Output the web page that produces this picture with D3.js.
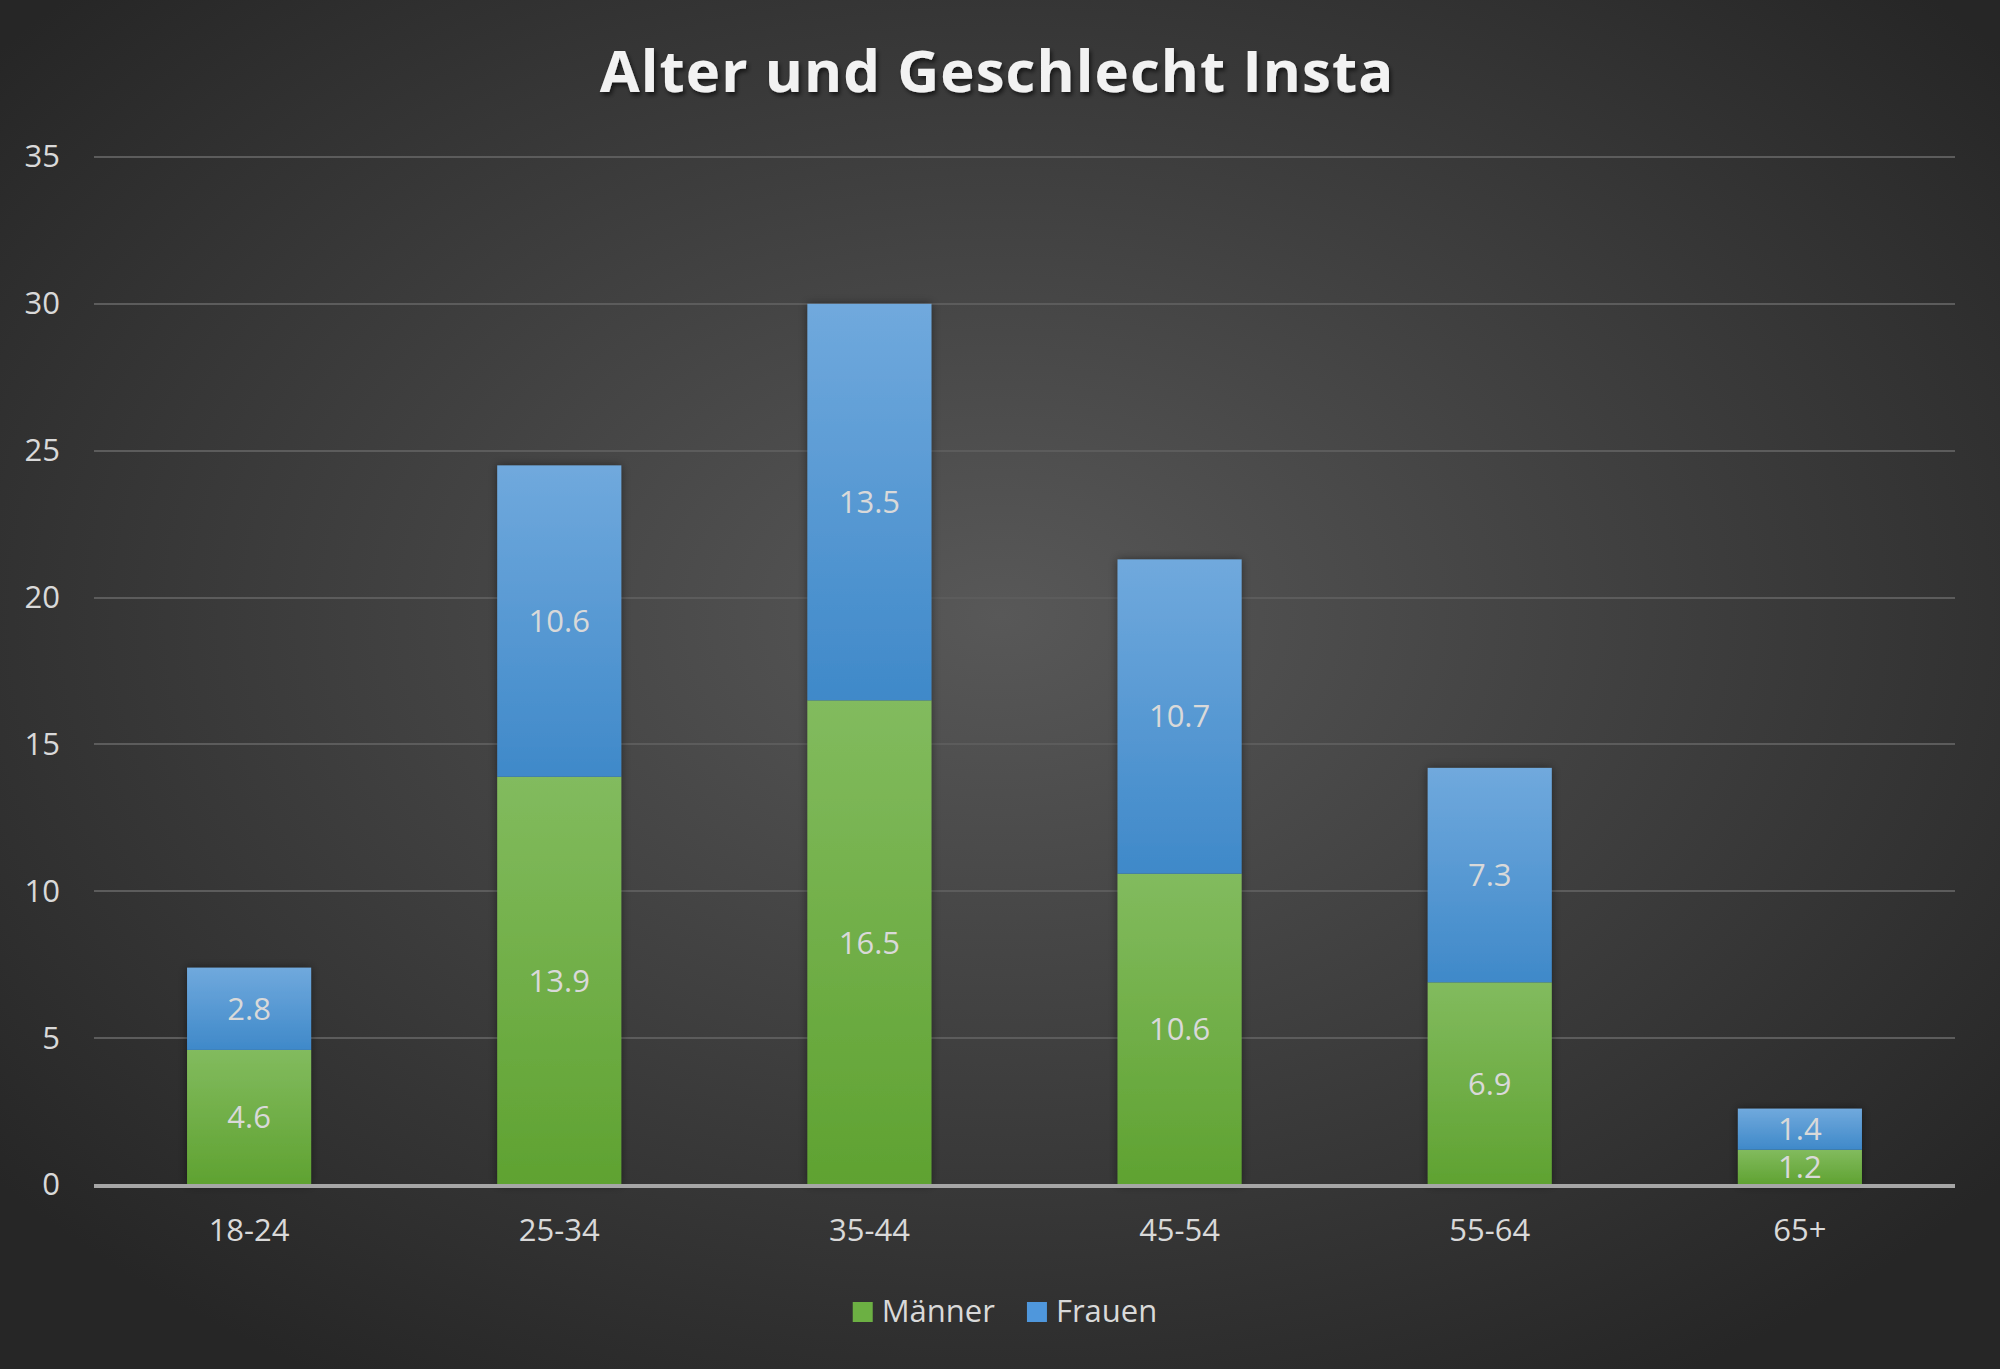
<!DOCTYPE html>
<meta charset="utf-8">
<style>
body { margin: 0; background: #2b2b2b; }
text { font-family: "Open Sans", sans-serif; fill: #d9d9d9; }
.axis path, .axis line { display: none; }
.grid line { stroke: #5c5c5c; stroke-width: 2; shape-rendering: crispEdges; }
.title { font-weight: bold; font-size: 58px; fill: #f2f2f2; letter-spacing: 1.1px; text-anchor: middle; }
</style>
<body>
<div id="chart"></div>
<script src="https://d3js.org/d3.v7.min.js"></script>
<script>

var categories = ["18-24", "25-34", "35-44", "45-54", "55-64", "65+"];
var maenner = [4.6, 13.9, 16.5, 10.6, 6.9, 1.2];
var frauen = [2.8, 10.6, 13.5, 10.7, 7.3, 1.4];
var seriesNames = ["Männer", "Frauen"];
var yTicks = [0, 5, 10, 15, 20, 25, 30, 35];

var width = 2000,
    height = 1369,
    margin = {top: 157, right: 45, bottom: 184, left: 94};

var rows = categories.map((c, i) => ({cat: c, "Männer": maenner[i], "Frauen": frauen[i]}));
var stacked = d3.stack().keys(seriesNames)(rows);

var svg = d3.select("#chart")
  .append("svg")
  .attr("width", width)
  .attr("height", height);

var defs = svg.append("defs");

// background
var bg = defs.append("radialGradient").attr("id", "bg")
  .attr("cx", "50%").attr("cy", "45%").attr("r", "65%");
bg.append("stop").attr("offset", "0%").attr("stop-color", "#585858");
bg.append("stop").attr("offset", "100%").attr("stop-color", "#262626");

var gGreen = defs.append("linearGradient").attr("id", "gGreen").attr("x1", 0).attr("y1", 0).attr("x2", 0).attr("y2", 1);
gGreen.append("stop").attr("offset", "0%").attr("stop-color", "#82bb5e");
gGreen.append("stop").attr("offset", "100%").attr("stop-color", "#5fa231");
var gBlue = defs.append("linearGradient").attr("id", "gBlue").attr("x1", 0).attr("y1", 0).attr("x2", 0).attr("y2", 1);
gBlue.append("stop").attr("offset", "0%").attr("stop-color", "#70a9dd");
gBlue.append("stop").attr("offset", "100%").attr("stop-color", "#3f89c9");

var shadow = defs.append("filter").attr("id", "shadow").attr("x", "-20%").attr("y", "-20%").attr("width", "140%").attr("height", "140%");
shadow.append("feDropShadow").attr("dx", 0).attr("dy", 0).attr("stdDeviation", 5).attr("flood-color", "#000").attr("flood-opacity", 0.45);
var tshadow = defs.append("filter").attr("id", "tshadow").attr("x", "-5%").attr("y", "-20%").attr("width", "110%").attr("height", "150%");
tshadow.append("feDropShadow").attr("dx", 2).attr("dy", 3).attr("stdDeviation", 2).attr("flood-color", "#000").attr("flood-opacity", 0.6);

svg.append("rect").attr("width", width).attr("height", height).attr("fill", "url(#bg)");

var x = d3.scaleBand()
  .domain(categories)
  .range([margin.left, width - margin.right])
  .paddingInner(0.6)
  .paddingOuter(0.3);

var y = d3.scaleLinear()
  .domain([0, 35])
  .range([height - margin.bottom, margin.top]);

// gridlines
svg.append("g").attr("class", "grid")
  .selectAll("line")
  .data(yTicks.slice(1))
  .enter().append("line")
  .attr("x1", margin.left).attr("x2", width - margin.right)
  .attr("y1", d => Math.round(y(d))).attr("y2", d => Math.round(y(d)));

// y axis labels
svg.append("g")
  .attr("class", "axis")
  .attr("transform", `translate(${margin.left - 34},0)`)
  .call(d3.axisLeft(y).tickValues(yTicks).tickSize(0).tickPadding(0))
  .call(g => g.selectAll("text").attr("fill", "#d9d9d9").style("font-size", "31px").attr("font-family", null));

// bars
var colors = {"Männer": "url(#gGreen)", "Frauen": "url(#gBlue)"};
var barGroup = svg.append("g").attr("filter", "url(#shadow)");
barGroup.selectAll("g")
  .data(stacked)
  .enter().append("g")
  .attr("fill", d => colors[d.key])
  .selectAll("rect")
  .data(d => d)
  .enter().append("rect")
  .attr("x", d => x(d.data.cat))
  .attr("y", d => y(d[1]))
  .attr("width", x.bandwidth())
  .attr("height", d => y(d[0]) - y(d[1]));

// data labels
stacked.forEach(s => {
  svg.append("g").selectAll("text")
    .data(s)
    .enter().append("text")
    .attr("x", d => x(d.data.cat) + x.bandwidth() / 2)
    .attr("y", d => (y(d[0]) + y(d[1])) / 2)
    .attr("dy", "0.35em")
    .attr("text-anchor", "middle")
    .style("font-size", "31px")
    .text(d => d3.format(".1f")(d[1] - d[0]));
});

// x axis
svg.append("line")
  .attr("x1", margin.left).attr("x2", width - margin.right)
  .attr("y1", y(0) + 1).attr("y2", y(0) + 1)
  .attr("stroke", "#a6a6a6").attr("stroke-width", 4);

svg.append("g")
  .attr("class", "axis")
  .attr("transform", `translate(0,${y(0) + 34})`)
  .call(d3.axisBottom(x).tickSize(0).tickPadding(0))
  .call(g => g.selectAll("text").attr("fill", "#d9d9d9").style("font-size", "31px").attr("font-family", null));

// title
svg.append("text")
  .attr("class", "title")
  .attr("x", 997)
  .attr("y", 92)
  .attr("filter", "url(#tshadow)")
  .text("Alter und Geschlecht Insta");

// legend
var legend = svg.append("g");
var lx = 0;
seriesNames.forEach((name, i) => {
  var item = legend.append("g").attr("transform", `translate(${lx},0)`);
  item.append("rect").attr("x", 0).attr("y", -20).attr("width", 20).attr("height", 20)
    .attr("fill", i == 0 ? "#6cb043" : "#4f97dc");
  var t = item.append("text").attr("x", 29).attr("y", 0).style("font-size", "31px").text(name);
  lx += 29 + t.node().getComputedTextLength() + 32;
});
var lw = lx - 32;
legend.attr("transform", `translate(${1005 - lw / 2},1322)`);

</script>
</body>
